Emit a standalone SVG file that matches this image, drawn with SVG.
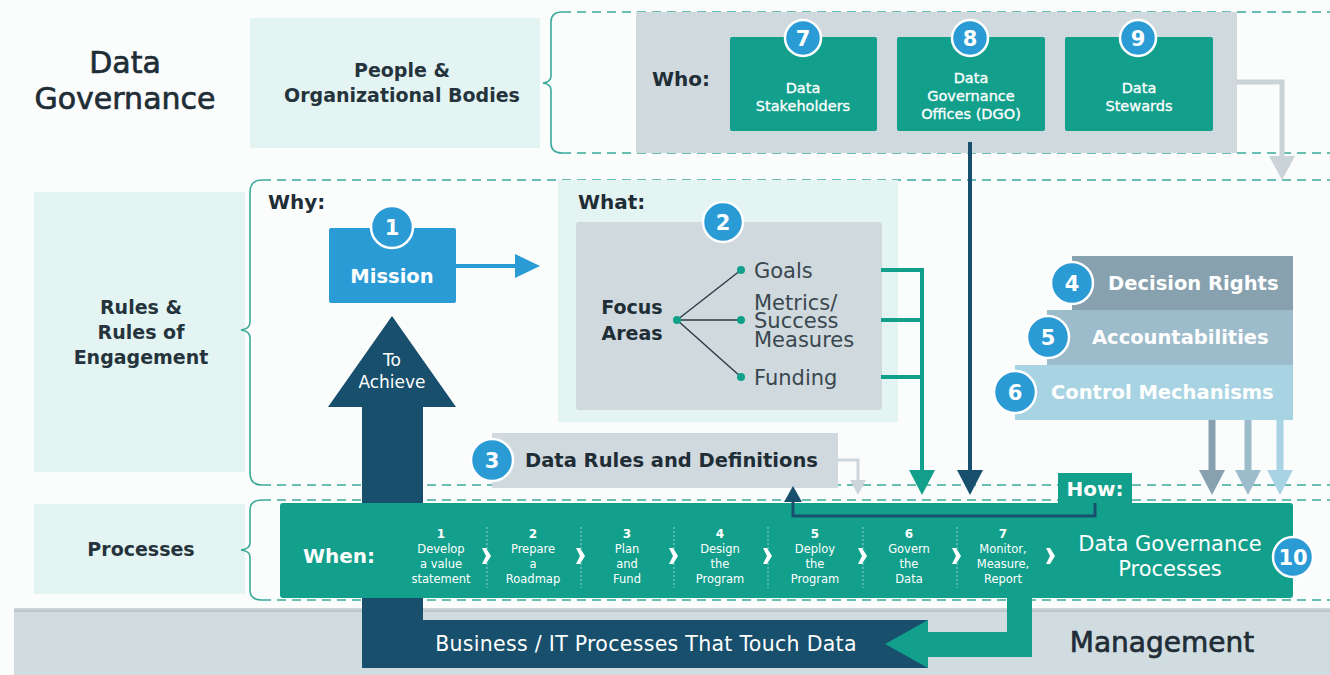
<svg xmlns="http://www.w3.org/2000/svg" width="1330" height="675" viewBox="0 0 1330 675">
<defs>
<style>
text{font-family:"DejaVu Sans","Liberation Sans",sans-serif;}
.dk{fill:#1f2d36;}
.wh{fill:#ffffff;}
.b{font-weight:700;}
.med{stroke:#1f2d36;stroke-width:0.7;}
.lbl{font-size:19px;font-weight:700;fill:#25343c;text-anchor:middle;}
.num{fill:#2b9bd6;stroke:#ffffff;stroke-width:2.5;}
.numt{fill:#fff;font-size:21px;font-weight:700;text-anchor:middle;}
.dash{stroke:#3aa99a;stroke-width:1.6;stroke-dasharray:9 6;fill:none;}
.brace{stroke:#3aa99a;stroke-width:1.6;fill:none;}
.card{fill:#12a08c;}
.ct{fill:#fff;font-size:14.5px;text-anchor:middle;stroke:#fff;stroke-width:0.3;}
.st{fill:#fff;font-size:11.5px;text-anchor:middle;}
.stn{fill:#fff;font-size:12px;font-weight:700;text-anchor:middle;}
.sep{stroke:#ffffff;stroke-opacity:0.55;stroke-width:1;stroke-dasharray:2 2;}
</style>
</defs>
<rect x="0" y="0" width="1330" height="675" fill="#fbfdfd"/>
<!-- management band -->
<rect x="14" y="610" width="1316" height="65" fill="#d1dce1"/>
<rect x="14" y="608" width="1316" height="4" fill="#aeb9be" opacity="0.6"/>

<!-- left labels -->
<g id="title">
<text x="125" y="73" class="dk med" font-size="30" text-anchor="middle">Data</text>
<text x="125" y="109" class="dk med" font-size="30" text-anchor="middle">Governance</text>
</g>
<g id="people-label">
<rect x="250" y="18" width="290" height="130" fill="#e4f4f3"/>
<text x="402" y="77" class="lbl">People &amp;</text>
<text x="402" y="102" class="lbl">Organizational Bodies</text>
</g>
<g id="rules-label">
<rect x="34" y="192" width="211" height="280" fill="#e4f4f3"/>
<text x="141" y="314" class="lbl">Rules &amp;</text>
<text x="141" y="339" class="lbl">Rules of</text>
<text x="141" y="364" class="lbl">Engagement</text>
</g>
<g id="processes-label">
<rect x="34" y="504" width="211" height="90" fill="#e4f4f3"/>
<text x="141" y="556" class="lbl">Processes</text>
</g>

<!-- braces and dashed regions -->
<g id="regions">
<path class="brace" d="M562,12 Q551,12 551,22 L551,76 Q551,82 543,83 Q551,84 551,90 L551,143 Q551,153 562,153"/>
<line class="dash" x1="562" y1="12" x2="1330" y2="12"/>
<line class="dash" x1="562" y1="153" x2="1330" y2="153"/>
<path class="brace" d="M262,180 Q250,180 250,192 L250,322 Q250,329 241,330 Q250,331 250,338 L250,473 Q250,485 262,485"/>
<line class="dash" x1="262" y1="180" x2="1330" y2="180"/>
<line class="dash" x1="262" y1="485" x2="1330" y2="485"/>
<path class="brace" d="M262,500 Q250,500 250,510 L250,543 Q250,549 241,550 Q250,551 250,557 L250,590 Q250,600 262,600"/>
<line class="dash" x1="262" y1="500" x2="1330" y2="500"/>
<line class="dash" x1="262" y1="600" x2="1330" y2="600" stroke-dasharray="3 2"/>
</g>

<!-- Who panel -->
<g id="who-panel">
<rect x="636" y="12" width="601" height="141" fill="#cfd9de"/>
<text x="652" y="86" class="dk b" font-size="20">Who:</text>
</g>
<g id="node7">
<rect class="card" x="730" y="37" width="147" height="94" rx="2"/>
<circle class="num" cx="803" cy="38" r="18"/>
<text class="numt" x="803" y="46">7</text>
<text class="ct" x="803" y="93">Data</text>
<text class="ct" x="803" y="111">Stakeholders</text>
</g>
<g id="node8">
<rect class="card" x="897" y="37" width="148" height="94" rx="2"/>
<circle class="num" cx="970" cy="38" r="18"/>
<text class="numt" x="970" y="46">8</text>
<text class="ct" x="971" y="83">Data</text>
<text class="ct" x="971" y="101">Governance</text>
<text class="ct" x="971" y="119">Offices (DGO)</text>
</g>
<g id="node9">
<rect class="card" x="1065" y="37" width="148" height="94" rx="2"/>
<circle class="num" cx="1138" cy="38" r="18"/>
<text class="numt" x="1138" y="46">9</text>
<text class="ct" x="1139" y="93">Data</text>
<text class="ct" x="1139" y="111">Stewards</text>
</g>

<!-- What panel -->
<g id="what-panel">
<rect x="558" y="180" width="340" height="242" fill="#e4f4f3"/>
<text x="578" y="209" class="dk b" font-size="20">What:</text>
<text x="268" y="209" class="dk b" font-size="20">Why:</text>
</g>
<g id="node2">
<rect x="576" y="222" width="306" height="188" rx="3" fill="#cfd9de"/>
<circle class="num" cx="723" cy="222" r="20"/>
<text class="numt" x="723" y="230">2</text>
<text x="632" y="314" class="dk b" font-size="19" text-anchor="middle">Focus</text>
<text x="632" y="340" class="dk b" font-size="19" text-anchor="middle">Areas</text>
<g stroke="#2b3a42" stroke-width="1.4">
<line x1="677" y1="320" x2="741" y2="270"/>
<line x1="677" y1="320" x2="741" y2="320"/>
<line x1="677" y1="320" x2="741" y2="377"/>
</g>
<g fill="#12a08c">
<circle cx="677" cy="320" r="4"/>
<circle cx="741" cy="270" r="4"/>
<circle cx="741" cy="320" r="4"/>
<circle cx="741" cy="377" r="4"/>
</g>
<g fill="#3a474e" font-size="21">
<text x="754" y="278">Goals</text>
<text x="754" y="310">Metrics/</text>
<text x="754" y="328">Success</text>
<text x="754" y="347">Measures</text>
<text x="754" y="385">Funding</text>
</g>
</g>

<!-- Mission -->
<g id="node1">
<rect x="329" y="228" width="127" height="75" rx="2" fill="#2b9bd6"/>
<circle class="num" cx="392" cy="227" r="21"/>
<text class="numt" x="392" y="235">1</text>
<text x="392" y="283" class="wh b" font-size="19.5" text-anchor="middle">Mission</text>
</g>

<!-- Data rules -->
<g id="node3">
<rect x="492" y="433" width="346" height="55" fill="#cfd9de"/>
<circle class="num" cx="492" cy="460" r="21"/>
<text class="numt" x="492" y="468">3</text>
<text x="525" y="467" class="dk b" font-size="19.5">Data Rules and Definitions</text>
</g>

<!-- stacked right boxes -->
<g id="node6">
<rect x="1015" y="365" width="278" height="55" fill="#a8d3e2"/>
<circle class="num" cx="1015" cy="392" r="21"/>
<text class="numt" x="1015" y="400">6</text>
<text x="1051" y="399" class="wh b" font-size="19.5">Control Mechanisms</text>
</g>
<g id="node5">
<rect x="1047" y="310" width="246" height="55" fill="#9dbccb"/>
<circle class="num" cx="1048" cy="337" r="21"/>
<text class="numt" x="1048" y="345">5</text>
<text x="1092" y="344" class="wh b" font-size="19.5">Accountabilities</text>
</g>
<g id="node4">
<rect x="1072" y="256" width="221" height="54" fill="#87a1af"/>
<circle class="num" cx="1072" cy="283" r="21"/>
<text class="numt" x="1072" y="291">4</text>
<text x="1108" y="290" class="wh b" font-size="19.5">Decision Rights</text>
</g>

<!-- connectors -->
<g id="connectors">
<line x1="456" y1="266" x2="517" y2="266" stroke="#2b9bd6" stroke-width="4"/>
<polygon points="515,254 540,266 515,278" fill="#2b9bd6"/>
<polyline points="1237,82 1282,82 1282,160" fill="none" stroke="#c9d3d8" stroke-width="5"/>
<polygon points="1269,156 1295,156 1282,180" fill="#c9d3d8"/>
<line x1="970" y1="142" x2="970" y2="472" stroke="#174f6c" stroke-width="4"/>
<polygon points="957,470 983,470 970,495" fill="#174f6c"/>
<g stroke="#12a08c" stroke-width="4" fill="none">
<line x1="881" y1="270" x2="924" y2="270"/>
<line x1="881" y1="320" x2="924" y2="320"/>
<line x1="881" y1="377" x2="924" y2="377"/>
<line x1="922" y1="268" x2="922" y2="472"/>
</g>
<polygon points="909,470 935,470 922,495" fill="#12a08c"/>
<polyline points="838,460 858,460 858,482" fill="none" stroke="#cdd6da" stroke-width="3"/>
<polygon points="850,480 866,480 858,495" fill="#cdd6da"/>
<line x1="1212" y1="420" x2="1212" y2="472" stroke="#87a1af" stroke-width="7"/>
<polygon points="1199,470 1225,470 1212,495" fill="#87a1af"/>
<line x1="1248" y1="420" x2="1248" y2="472" stroke="#9dbccb" stroke-width="7"/>
<polygon points="1235,470 1261,470 1248,495" fill="#9dbccb"/>
<line x1="1280" y1="420" x2="1280" y2="472" stroke="#a8d3e2" stroke-width="7"/>
<polygon points="1267,470 1293,470 1280,495" fill="#a8d3e2"/>
</g>

<!-- To Achieve arrow + business banner -->
<g id="business">
<path d="M392,316 L456,407 L423,407 L423,620 L928,620 L928,668 L362,668 L362,407 L328,407 Z" fill="#174f6c"/>
<text x="392" y="366" class="wh" font-size="17" text-anchor="middle">To</text>
<text x="392" y="388" class="wh" font-size="17" text-anchor="middle">Achieve</text>
<text x="646" y="651" class="wh" font-size="20.5" letter-spacing="0.3" text-anchor="middle">Business / IT Processes That Touch Data</text>
</g>

<!-- Processes bar -->
<g id="node10">
<rect x="280" y="503" width="1013" height="95" rx="3" fill="#12a08c"/>
<rect x="1058" y="473" width="74" height="32" fill="#12a08c"/>
<text x="1095" y="496" class="wh b" font-size="20" text-anchor="middle">How:</text>
<text x="303" y="563" class="wh b" font-size="20">When:</text>
<g>
<text class="stn" x="441" y="538">1</text><text class="st" x="441" y="553">Develop</text><text class="st" x="441" y="568">a value</text><text class="st" x="441" y="583">statement</text>
<text class="stn" x="533" y="538">2</text><text class="st" x="533" y="553">Prepare</text><text class="st" x="533" y="568">a</text><text class="st" x="533" y="583">Roadmap</text>
<text class="stn" x="627" y="538">3</text><text class="st" x="627" y="553">Plan</text><text class="st" x="627" y="568">and</text><text class="st" x="627" y="583">Fund</text>
<text class="stn" x="720" y="538">4</text><text class="st" x="720" y="553">Design</text><text class="st" x="720" y="568">the</text><text class="st" x="720" y="583">Program</text>
<text class="stn" x="815" y="538">5</text><text class="st" x="815" y="553">Deploy</text><text class="st" x="815" y="568">the</text><text class="st" x="815" y="583">Program</text>
<text class="stn" x="909" y="538">6</text><text class="st" x="909" y="553">Govern</text><text class="st" x="909" y="568">the</text><text class="st" x="909" y="583">Data</text>
<text class="stn" x="1003" y="538">7</text><text class="st" x="1003" y="553">Monitor,</text><text class="st" x="1003" y="568">Measure,</text><text class="st" x="1003" y="583">Report</text>
</g>
<g>
<line class="sep" x1="487" y1="527" x2="487" y2="588"/>
<line class="sep" x1="581" y1="527" x2="581" y2="588"/>
<line class="sep" x1="674" y1="527" x2="674" y2="588"/>
<line class="sep" x1="768" y1="527" x2="768" y2="588"/>
<line class="sep" x1="863" y1="527" x2="863" y2="588"/>
<line class="sep" x1="957" y1="527" x2="957" y2="588"/>
</g>
<g fill="#ffffff">
<path d="M482,548 L486,548 L491,556 L486,564 L482,564 L486,556 Z"/>
<path d="M576,548 L580,548 L585,556 L580,564 L576,564 L580,556 Z"/>
<path d="M669,548 L673,548 L678,556 L673,564 L669,564 L673,556 Z"/>
<path d="M763,548 L767,548 L772,556 L767,564 L763,564 L767,556 Z"/>
<path d="M858,548 L862,548 L867,556 L862,564 L858,564 L862,556 Z"/>
<path d="M952,548 L956,548 L961,556 L956,564 L952,564 L956,556 Z"/>
<path d="M1046,548 L1050,548 L1055,556 L1050,564 L1046,564 L1050,556 Z"/>
</g>
<text x="1170" y="551" class="wh" font-size="21" text-anchor="middle">Data Governance</text>
<text x="1170" y="576" class="wh" font-size="21" text-anchor="middle">Processes</text>
<circle class="num" cx="1293" cy="557" r="20"/>
<text class="numt" x="1293" y="565">10</text>
</g>

<!-- How connector and teal management arrow -->
<g id="connectors2">
<polyline points="1095,503 1095,516 793,516 793,500" fill="none" stroke="#174f6c" stroke-width="3"/>
<polygon points="784,502 802,502 793,486" fill="#174f6c"/>
<path d="M1007,598 L1032,598 L1032,657 L928,657 L928,668 L885,644 L928,620 L928,632 L1007,632 Z" fill="#12a08c"/>
</g>

<text x="1162" y="652" class="dk med" font-size="28" text-anchor="middle">Management</text>
</svg>
